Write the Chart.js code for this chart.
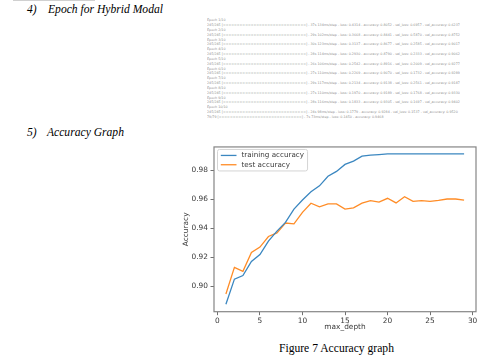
<!DOCTYPE html>
<html><head><meta charset="utf-8">
<script src="https://cdn.jsdelivr.net/npm/chart.js@4.4.1/dist/chart.umd.min.js"></script>
<style>
html,body{margin:0;padding:0;background:#fff;width:504px;height:362px;overflow:hidden;position:relative}
.h{position:absolute;font-family:"Liberation Serif","Times New Roman",serif;font-style:italic;font-size:11.6px;line-height:12px;color:#000;white-space:nowrap}
#topline{position:absolute;left:13px;top:0;width:82px;height:1px;background:#d0d0d0}
#log{position:absolute;left:206.7px;top:18.3px;margin:0;font-family:"DejaVu Sans",sans-serif;font-size:6.6px;line-height:9.66px;color:#909090;white-space:pre;transform:scale(0.5);transform-origin:0 0}
#wrap{position:absolute;left:180px;top:140px;width:310px;height:193px}
#cap{position:absolute;left:279px;top:343px;font-family:"Liberation Serif","Times New Roman",serif;font-size:11.6px;line-height:12px;color:#000;white-space:nowrap}
</style></head><body>
<div id="topline"></div>
<div class="h" style="left:27px;top:4px">4)</div>
<div class="h" style="left:48px;top:4px">Epoch for Hybrid Modal</div>
<pre id="log"></pre>
<div class="h" style="left:27px;top:127px">5)</div>
<div class="h" style="left:47px;top:127px">Accuracy Graph</div>
<div id="wrap"><canvas id="c" width="310" height="193"></canvas></div>
<div id="cap">Figure 7 Accuracy graph</div>
<script>
const logLines = [
"Epoch 1/10",
"245/245 [==============================] - 37s 134ms/step - loss: 0.4314 - accuracy: 0.8052 - val_loss: 0.6957 - val_accuracy: 0.6237",
"Epoch 2/10",
"245/245 [==============================] - 29s 102ms/step - loss: 0.3668 - accuracy: 0.8441 - val_loss: 0.5870 - val_accuracy: 0.8752",
"Epoch 3/10",
"245/245 [==============================] - 30s 123ms/step - loss: 0.3137 - accuracy: 0.8677 - val_loss: 0.2585 - val_accuracy: 0.9017",
"Epoch 4/10",
"245/245 [==============================] - 28s 114ms/step - loss: 0.2930 - accuracy: 0.8790 - val_loss: 0.2333 - val_accuracy: 0.9062",
"Epoch 5/10",
"245/245 [==============================] - 26s 106ms/step - loss: 0.2542 - accuracy: 0.8916 - val_loss: 0.2009 - val_accuracy: 0.9277",
"Epoch 6/10",
"245/245 [==============================] - 27s 110ms/step - loss: 0.2269 - accuracy: 0.9070 - val_loss: 0.1732 - val_accuracy: 0.9289",
"Epoch 7/10",
"245/245 [==============================] - 29s 117ms/step - loss: 0.2134 - accuracy: 0.9138 - val_loss: 0.2561 - val_accuracy: 0.9187",
"Epoch 8/10",
"245/245 [==============================] - 27s 110ms/step - loss: 0.1970 - accuracy: 0.9189 - val_loss: 0.1768 - val_accuracy: 0.9330",
"Epoch 9/10",
"245/245 [==============================] - 28s 116ms/step - loss: 0.1833 - accuracy: 0.9305 - val_loss: 0.1697 - val_accuracy: 0.9402",
"Epoch 10/10",
"245/245 [==============================] - 24s 98ms/step - loss: 0.1779 - accuracy: 0.9284 - val_loss: 0.1537 - val_accuracy: 0.9520",
"79/79 [==============================] - 7s 73ms/step - loss: 0.1450 - accuracy: 0.9468"
];
document.getElementById('log').textContent = logLines.join('\n');

const maxDepth = [1,2,3,4,5,6,7,8,9,10,11,12,13,14,15,16,17,18,19,20,21,22,23,24,25,26,27,28,29];
const trainingAccuracy = [0.8875,0.9048,0.9073,0.9170,0.9218,0.9311,0.9380,0.9440,0.9532,0.9595,0.9652,0.9693,0.9759,0.9793,0.9841,0.9864,0.9898,0.9905,0.9909,0.9914,0.9914,0.9914,0.9914,0.9914,0.9914,0.9914,0.9914,0.9914,0.9914];
const testAccuracy = [0.8945,0.9130,0.9102,0.9232,0.9270,0.9343,0.9368,0.9436,0.9430,0.9510,0.9573,0.9548,0.9568,0.9568,0.9532,0.9541,0.9573,0.9591,0.9580,0.9607,0.9575,0.9618,0.9586,0.9591,0.9586,0.9593,0.9602,0.9602,0.9595];
const xTicks = [0,5,10,15,20,25,30];
const yTicks = [0.90,0.92,0.94,0.96,0.98];
const seriesLabels = ['training accuracy','test accuracy'];
const seriesColors = ['#3b87c0','#ff8c26'];

const FONT = 'DejaVu Sans';
const tickFont = {family: FONT, size: 7.4};

const framePlugin = {
  id: 'frame',
  afterDatasetsDraw(chart) {
    const {ctx, chartArea: a} = chart;
    ctx.save();
    ctx.strokeStyle = '#858585';
    ctx.lineWidth = 1.2;
    ctx.strokeRect(a.left, a.top, a.right - a.left, a.bottom - a.top);
    ctx.restore();
  }
};

const legendPlugin = {
  id: 'insideLegend',
  afterDraw(chart) {
    const {ctx, chartArea: a} = chart;
    ctx.save();
    ctx.font = '7.2px "' + FONT + '"';
    const ds = chart.data.datasets;
    let tw = 0;
    ds.forEach(d => { tw = Math.max(tw, ctx.measureText(d.label).width); });
    const bx = a.left + 3.5, by = a.top + 2.5, bw = 24 + tw + 3.5, bh = 21.5;
    ctx.fillStyle = 'rgba(255,255,255,0.85)';
    ctx.strokeStyle = '#d4d4d4';
    ctx.lineWidth = 1;
    ctx.beginPath();
    if (ctx.roundRect) ctx.roundRect(bx, by, bw, bh, 2); else ctx.rect(bx, by, bw, bh);
    ctx.fill(); ctx.stroke();
    ds.forEach((d, i) => {
      const yy = by + 6 + i * 9.3;
      ctx.strokeStyle = d.borderColor;
      ctx.lineWidth = 1.3;
      ctx.beginPath(); ctx.moveTo(bx + 3.3, yy); ctx.lineTo(bx + 19, yy); ctx.stroke();
      ctx.fillStyle = '#3a3a3a';
      ctx.textBaseline = 'middle';
      ctx.textAlign = 'left';
      ctx.fillText(d.label, bx + 24, yy);
    });
    ctx.restore();
  }
};

const trainingPoints = maxDepth.map((x, i) => ({x: x, y: trainingAccuracy[i]}));
const testPoints = maxDepth.map((x, i) => ({x: x, y: testAccuracy[i]}));

new Chart(document.getElementById('c'), {
  type: 'line',
  data: {
    datasets: [
      {label: seriesLabels[0], data: trainingPoints, borderColor: seriesColors[0], backgroundColor: seriesColors[0], borderWidth: 1.3, pointRadius: 0, tension: 0, fill: false},
      {label: seriesLabels[1], data: testPoints, borderColor: seriesColors[1], backgroundColor: seriesColors[1], borderWidth: 1.3, pointRadius: 0, tension: 0, fill: false}
    ]
  },
  options: {
    responsive: false,
    animation: false,
    devicePixelRatio: 1,
    layout: {padding: {top: 4.3, right: 14, left: 0, bottom: 0}},
    plugins: {legend: {display: false}, tooltip: {enabled: false}},
    scales: {
      x: {
        type: 'linear', min: -0.4, max: 30.4,
        afterBuildTicks: s => { s.ticks = xTicks.map(v => ({value: v})); },
        afterFit: s => { s.height = 21.3; },
        grid: {display: true, drawOnChartArea: false, drawTicks: true, tickLength: 3.5, color: '#707070', lineWidth: 1},
        border: {display: false},
        ticks: {font: tickFont, color: '#3a3a3a', padding: 1, maxRotation: 0, autoSkip: false, callback: v => String(v)},
        title: {display: true, text: 'max_depth', font: tickFont, color: '#3a3a3a', padding: {top: 0, bottom: 1}}
      },
      y: {
        type: 'linear', min: 0.8823, max: 0.9962,
        afterBuildTicks: s => { s.ticks = yTicks.map(v => ({value: v})); },
        afterFit: s => { s.width = 34; },
        grid: {display: true, drawOnChartArea: false, drawTicks: true, tickLength: 3.5, color: '#707070', lineWidth: 1},
        border: {display: false},
        ticks: {font: tickFont, color: '#3a3a3a', padding: 2.5, autoSkip: false, callback: v => Number(v).toFixed(2)},
        title: {display: true, text: 'Accuracy', font: tickFont, color: '#3a3a3a', padding: {top: 1.7, bottom: 0}}
      }
    }
  },
  plugins: [framePlugin, legendPlugin]
});
</script>
</body></html>
